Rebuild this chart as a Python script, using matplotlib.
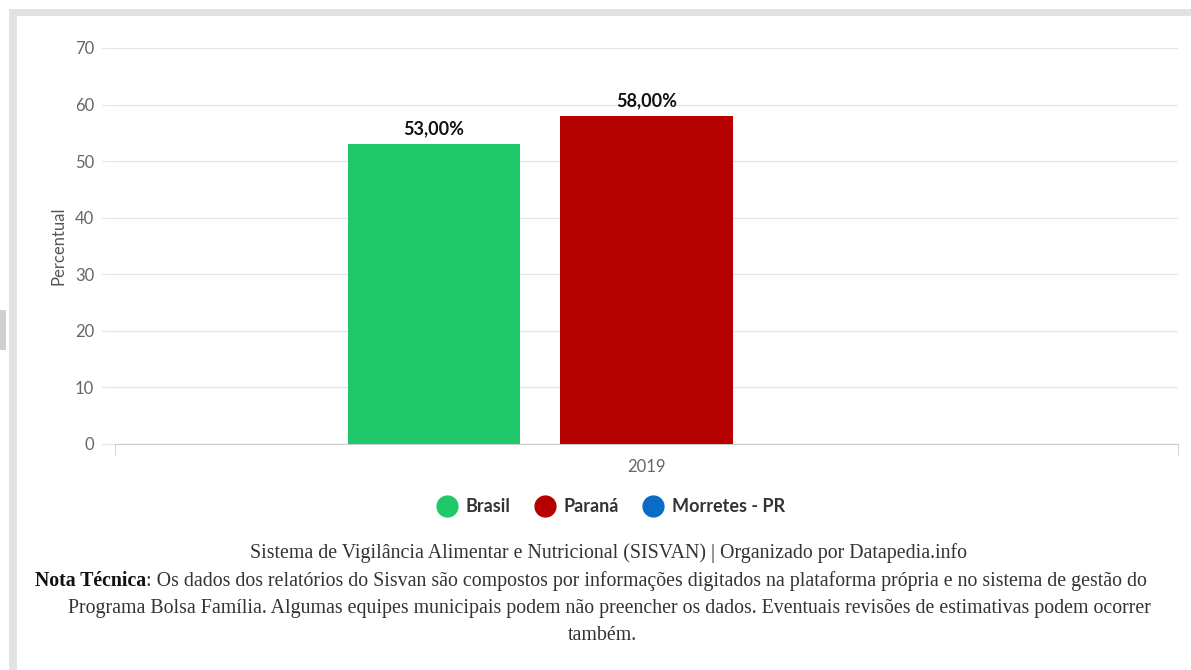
import matplotlib
matplotlib.use("Agg")
import matplotlib.pyplot as plt
import numpy as np
from matplotlib.patches import Rectangle
from matplotlib.lines import Line2D

categories = ["2019"]
series_names = ["Brasil", "Paraná", "Morretes - PR"]
series_values = {
    "Brasil": [53.0],
    "Paraná": [58.0],
    "Morretes - PR": [np.nan],
}
series_colors = ["#1ec86b", "#b50000", "#0a6cc4"]
y_ticks = [0, 10, 20, 30, 40, 50, 60, 70]
y_label = "Percentual"
source_text = "Sistema de Vigilância Alimentar e Nutricional (SISVAN) | Organizado por Datapedia.info"
note_bold = "Nota Técnica"
note_text = (": Os dados dos relatórios do Sisvan são compostos por informações digitados na plataforma própria e no sistema de gestão do")
note_line2 = "Programa Bolsa Família. Algumas equipes municipais podem não preencher os dados. Eventuais revisões de estimativas podem ocorrer"
note_line3 = "também."

W, H = 1191, 670
fig = plt.figure(figsize=(W / 100, H / 100), dpi=100)
fig.patch.set_facecolor("white")

# screenshot frame bands
fig.patches.append(Rectangle((9 / W, 1 - 16 / H), 1 - 9 / W, 7 / H, transform=fig.transFigure,
                             facecolor="#e2e2e2", edgecolor="none", zorder=0))
fig.patches.append(Rectangle((9 / W, 0), 8 / W, 1 - 9 / H, transform=fig.transFigure,
                             facecolor="#e2e2e2", edgecolor="none", zorder=0))
fig.patches.append(Rectangle((0, 1 - 350 / H), 6 / W, 40 / H, transform=fig.transFigure,
                             facecolor="#cfcfcf", edgecolor="none", zorder=0))

ax = fig.add_axes([115 / W, 1 - 444 / H, (1178 - 115) / W, (444 - 48) / H])
x = np.arange(len(categories))
offsets = [-0.2, 0.0, 0.2]
bw = 0.162
for name, off, col in zip(series_names, offsets, series_colors):
    vals = series_values[name]
    bars = ax.bar(x + off, vals, width=bw, color=col, zorder=3)
    for b, v in zip(bars, vals):
        if not np.isnan(v):
            ax.text(b.get_x() + b.get_width() / 2, v + 1.2, f"{v:.2f}%".replace(".", ","),
                    ha="center", va="bottom", fontsize=13, fontweight="bold",
                    family="Lato", color="#111111")

ax.set_xlim(-0.5, 0.5)
ax.set_ylim(0, 70)
ax.set_yticks(y_ticks)
ax.set_yticklabels([str(t) for t in y_ticks], fontsize=12, color="#666666", family="Lato")
ax.tick_params(axis="y", length=10, color="#e6e6e6", pad=5)
ax.yaxis.grid(True, color="#e6e6e6", linewidth=1, zorder=0)
ax.set_xticks(x)
ax.set_xticklabels(categories, fontsize=12, color="#666666", family="Lato")
ax.tick_params(axis="x", length=0, pad=11)
# category boundary ticks
ax.set_xticks([-0.5, 0.5], minor=True)
ax.tick_params(axis="x", which="minor", length=8, color="#cccccc")
for s in ["top", "right", "left"]:
    ax.spines[s].set_visible(False)
ax.spines["bottom"].set_color("#cccccc")
ax.set_ylabel(y_label, fontsize=12, color="#555555", family="Lato", labelpad=6)

handles = [Line2D([0], [0], marker="o", linestyle="none", markersize=15,
                  markerfacecolor=c, markeredgecolor=c) for c in series_colors]
leg = fig.legend(handles, series_names, loc="center", bbox_to_anchor=(607 / W, 1 - 507 / H),
                 ncol=3, frameon=False, handletextpad=0.05, columnspacing=0.9,
                 prop={"family": "Lato", "weight": "bold", "size": 13})
for t in leg.get_texts():
    t.set_color("#333333")

serif = "Liberation Serif"
fs = 14.3
fig.text(609 / W, 1 - 553 / H, source_text, ha="center", va="center", fontsize=fs,
         family=serif, color="#333333")
# Line 1 with bold prefix
t1 = fig.text(35 / W, 1 - 581 / H, note_bold, ha="left", va="center", fontsize=fs,
              family=serif, fontweight="bold", color="#111111")
fig.canvas.draw()
bb = t1.get_window_extent()
fig.text(bb.x1 / W, 1 - 581 / H, note_text, ha="left", va="center", fontsize=fs,
         family=serif, color="#333333")
fig.text(609 / W, 1 - 608 / H, note_line2, ha="center", va="center", fontsize=fs,
         family=serif, color="#333333")
fig.text(602 / W, 1 - 635 / H, note_line3, ha="center", va="center", fontsize=fs,
         family=serif, color="#333333")

fig.savefig("out.png", dpi=100)
